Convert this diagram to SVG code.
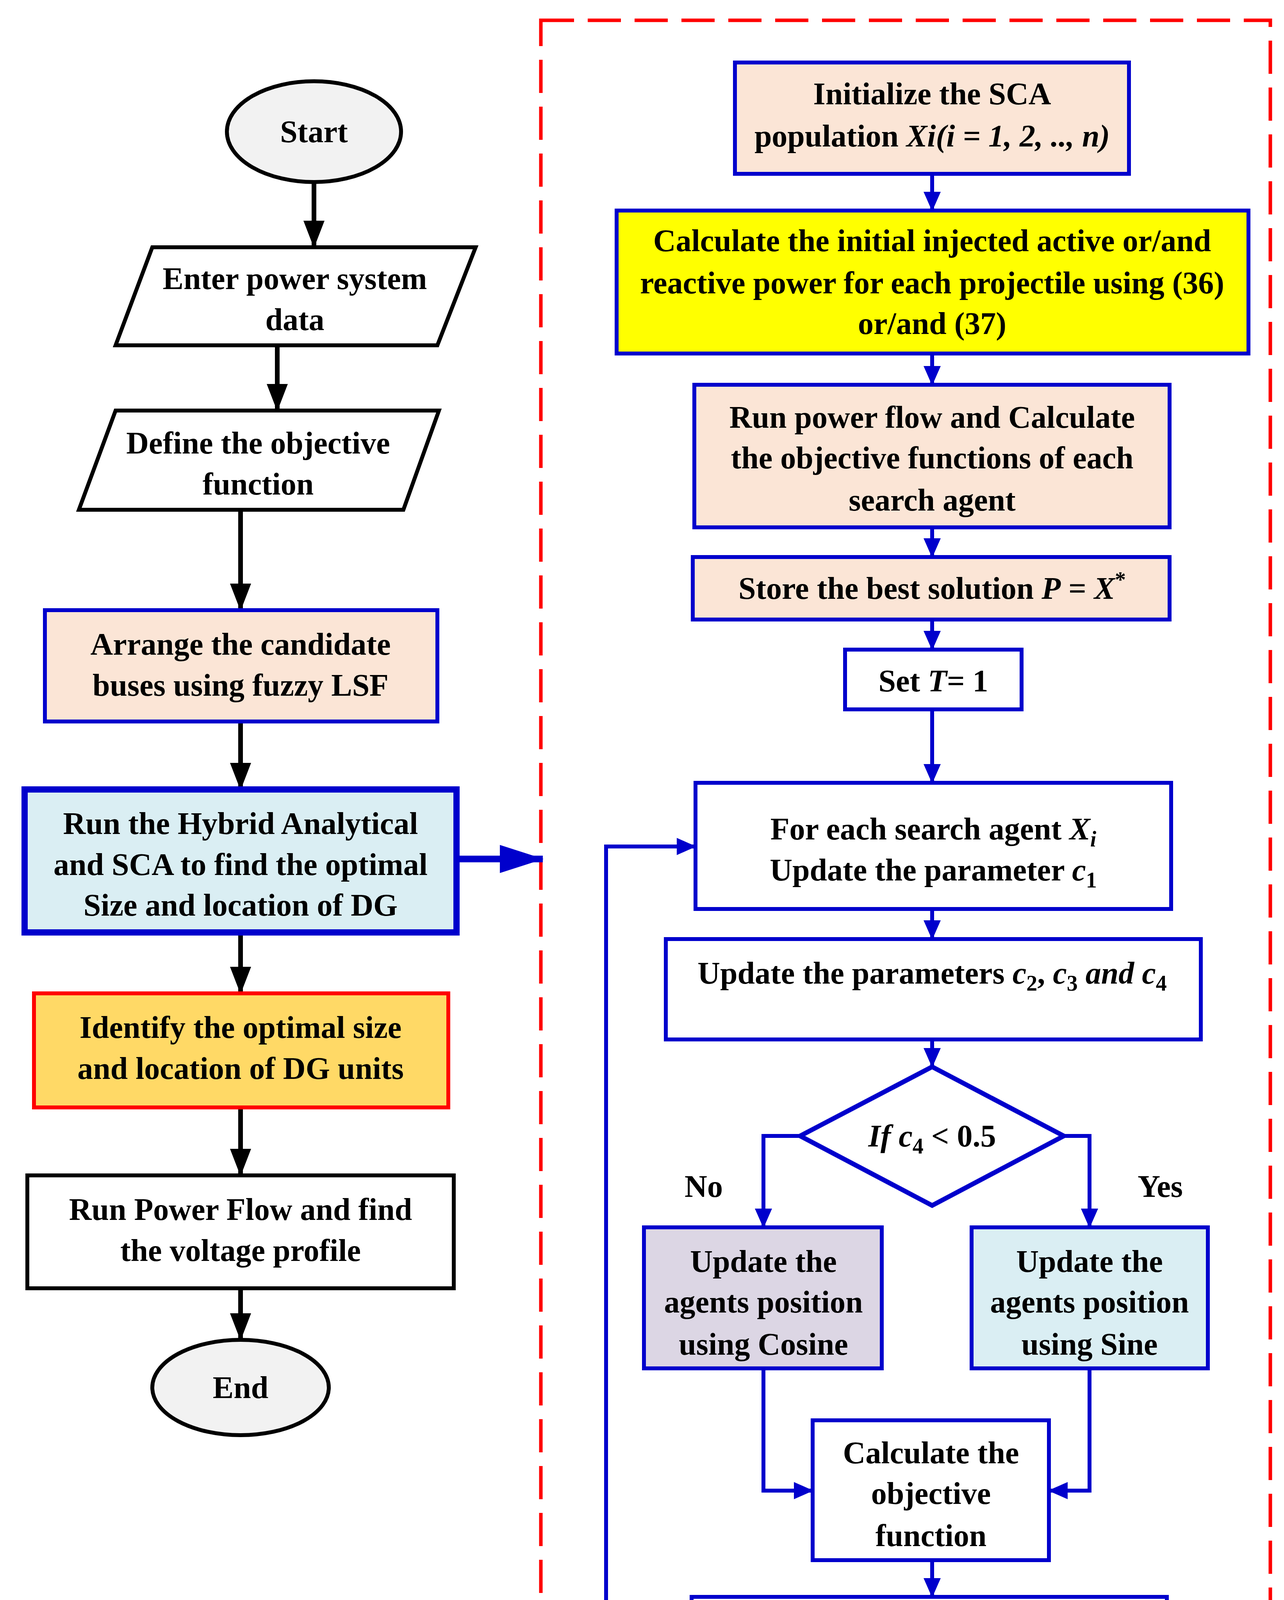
<svg xmlns="http://www.w3.org/2000/svg" width="3288" height="5445" viewBox="0 0 3288 5445">
<style>
text{font-family:"Liberation Serif","Times New Roman",serif;font-weight:bold;font-size:80px;text-anchor:middle;fill:#000}
.i{font-style:italic}
.s{font-size:56px}
.b{stroke:#0000cc;stroke-width:10;fill:none}
.bk{stroke:#000;stroke-width:12;fill:none}
.nb{stroke:#0000cc;stroke-width:10}
</style>
<defs>
<marker id="ab" markerUnits="userSpaceOnUse" markerWidth="50" markerHeight="44" refX="48" refY="22" orient="auto"><path d="M0,0L50,22L0,44z" fill="#0000cc"/></marker>
<marker id="abig" markerUnits="userSpaceOnUse" markerWidth="112" markerHeight="72" refX="110" refY="36" orient="auto"><path d="M0,0L112,36L0,72z" fill="#0000cc"/></marker>
<marker id="ak" markerUnits="userSpaceOnUse" markerWidth="70" markerHeight="54" refX="68" refY="27" orient="auto"><path d="M0,0L70,27L0,54z" fill="#000"/></marker>
</defs>
<rect x="1385" y="52" width="1868" height="5365" fill="none" stroke="#ff0000" stroke-width="9" stroke-dasharray="85,35"/>
<g id="connectors">
<path class="bk" marker-end="url(#ak)" d="M804,466V633"/>
<path class="bk" marker-end="url(#ak)" d="M710,884V1051"/>
<path class="bk" marker-end="url(#ak)" d="M616,1305V1562"/>
<path class="bk" marker-end="url(#ak)" d="M616,1847V2021"/>
<path class="bk" marker-end="url(#ak)" d="M616,2387V2543"/>
<path class="bk" marker-end="url(#ak)" d="M616,2835V3009"/>
<path class="bk" marker-end="url(#ak)" d="M616,3298V3430"/>
<path stroke="#0000cc" stroke-width="17" fill="none" marker-end="url(#abig)" d="M1169,2199H1390"/>
<path class="b" marker-end="url(#ab)" d="M2387,445V539"/>
<path class="b" marker-end="url(#ab)" d="M2387,905V985"/>
<path class="b" marker-end="url(#ab)" d="M2387,1350V1426"/>
<path class="b" marker-end="url(#ab)" d="M2387,1586V1663"/>
<path class="b" stroke-width="13" marker-end="url(#ab)" d="M2387,1816V2004"/>
<path class="b" marker-end="url(#ab)" d="M2387,2327V2404"/>
<path class="b" marker-end="url(#ab)" d="M2387,2661V2731"/>
<path class="b" stroke-width="14" marker-end="url(#ab)" d="M2049,2908H1955V3142"/>
<path class="b" stroke-width="14" marker-end="url(#ab)" d="M2724,2908H2790V3142"/>
<path class="b" stroke-width="13" marker-end="url(#ab)" d="M1955,3503V3816H2081"/>
<path class="b" stroke-width="13" marker-end="url(#ab)" d="M2790,3503V3816H2686"/>
<path class="b" marker-end="url(#ab)" d="M2387,3994V4088"/>
<path class="b" marker-end="url(#ab)" d="M2387,4238V4317"/>
<path class="b" marker-end="url(#ab)" d="M2387,4474V4568"/>
<path class="b" stroke-width="13" marker-end="url(#ab)" d="M2046,4745H1552V2167H1781"/>
<path class="b" marker-end="url(#ab)" d="M2387,4923V5031"/>
<text x="1802" y="3064">No</text>
<text x="2971" y="3064">Yes</text>
<text x="1851" y="4682">No</text>
<text x="2602" y="4981">Yes</text>
</g>
<g id="start"><ellipse cx="804" cy="337" rx="223" ry="129" fill="#f2f2f2" stroke="#000" stroke-width="10"/><text x="804" y="364">Start</text></g>
<g id="enter"><polygon points="390,633 1218,633 1120,884 296,884" fill="#fff" stroke="#000" stroke-width="10"/><text x="755" y="740">Enter power system</text><text x="755" y="845">data</text></g>
<g id="define"><polygon points="296,1051 1124,1051 1033,1305 202,1305" fill="#fff" stroke="#000" stroke-width="10"/><text x="661" y="1161">Define the objective</text><text x="661" y="1266">function</text></g>
<g id="arrange"><rect x="115" y="1562" width="1005" height="285" fill="#fbe5d6" class="nb"/><text x="616" y="1676">Arrange the candidate</text><text x="616" y="1781">buses using fuzzy LSF</text></g>
<g id="hybrid"><rect x="63" y="2021" width="1106" height="366" fill="#daeef3" stroke="#0000cc" stroke-width="16"/><text x="616" y="2135">Run the Hybrid Analytical</text><text x="616" y="2240">and SCA  to find the optimal</text><text x="616" y="2344">Size and location of DG</text></g>
<g id="identify"><rect x="87" y="2543" width="1061" height="292" fill="#ffd966" stroke="#ff0000" stroke-width="10"/><text x="616" y="2657">Identify the optimal size</text><text x="616" y="2762">and location of DG units</text></g>
<g id="runpf"><rect x="70" y="3009" width="1092" height="289" fill="#fff" stroke="#000" stroke-width="10"/><text x="616" y="3123">Run Power Flow and find</text><text x="616" y="3228">the voltage profile</text></g>
<g id="end"><ellipse cx="616" cy="3552" rx="226" ry="122" fill="#f2f2f2" stroke="#000" stroke-width="10"/><text x="616" y="3579">End</text></g>
<g id="init"><rect x="1882" y="160" width="1009" height="285" fill="#fbe5d6" class="nb"/><text x="2387" y="267">Initialize the SCA</text><text x="2387" y="375">population <tspan class="i">Xi(i = 1, 2, .., n)</tspan></text></g>
<g id="calcinit"><rect x="1579" y="539" width="1618" height="366" fill="#ffff00" class="nb"/><text x="2387" y="643">Calculate the initial injected active or/and</text><text x="2387" y="751">reactive power for each projectile using (36)</text><text x="2387" y="855">or/and (37)</text></g>
<g id="runflow"><rect x="1778" y="985" width="1217" height="365" fill="#fbe5d6" class="nb"/><text x="2387" y="1095">Run power flow and Calculate</text><text x="2387" y="1199">the objective functions of each</text><text x="2387" y="1307">search agent</text></g>
<g id="store"><rect x="1774" y="1426" width="1221" height="160" fill="#fbe5d6" class="nb"/><text x="2387" y="1533">Store the best solution <tspan class="i">P</tspan> = <tspan class="i">X</tspan><tspan class="s" dy="-30">*</tspan></text></g>
<g id="sett"><rect x="2164" y="1663" width="452" height="153" fill="#fff" class="nb"/><text x="2390" y="1770">Set <tspan class="i">T</tspan>= 1</text></g>
<g id="foreach"><rect x="1781" y="2004" width="1218" height="323" fill="#fff" class="nb"/><text x="2390" y="2149">For each search agent <tspan class="i">X</tspan><tspan class="s i" dy="18">i</tspan></text><text x="2390" y="2254">Update the parameter <tspan class="i">c</tspan><tspan class="s" dy="18">1</tspan></text></g>
<g id="updparams"><rect x="1705" y="2404" width="1370" height="257" fill="#fff" class="nb"/><text x="2387" y="2518">Update the parameters <tspan class="i">c</tspan><tspan class="s" dy="18">2</tspan><tspan dy="-18">, </tspan><tspan class="i">c</tspan><tspan class="s" dy="18">3</tspan><tspan class="i" dy="-18"> and c</tspan><tspan class="s" dy="18">4</tspan></text></g>
<g id="ifc4"><polygon points="2387,2731 2724,2908 2387,3086 2049,2908" fill="#fff" stroke="#0000cc" stroke-width="12"/><text x="2387" y="2935"><tspan class="i">If c</tspan><tspan class="s" dy="18">4</tspan><tspan dy="-18"> &lt;  0.5</tspan></text></g>
<g id="cosine"><rect x="1649" y="3142" width="609" height="361" fill="#dcd6e4" class="nb"/><text x="1955" y="3256">Update the</text><text x="1955" y="3360">agents position</text><text x="1955" y="3468">using Cosine</text></g>
<g id="sine"><rect x="2488" y="3142" width="605" height="361" fill="#daeef3" class="nb"/><text x="2790" y="3256">Update the</text><text x="2790" y="3360">agents position</text><text x="2790" y="3468">using Sine</text></g>
<g id="calcobj"><rect x="2081" y="3636" width="605" height="358" fill="#fff" class="nb"/><text x="2384" y="3746">Calculate the</text><text x="2384" y="3850">objective</text><text x="2384" y="3958">function</text></g>
<g id="updbest"><rect x="1771" y="4088" width="1217" height="150" fill="#fff" class="nb"/><text x="2380" y="4188">Update the best solution <tspan class="i">P</tspan> = <tspan class="i">X</tspan><tspan class="s" dy="-30">*</tspan></text></g>
<g id="tinc"><rect x="2195" y="4317" width="379" height="157" fill="#fff" class="nb"/><text x="2384" y="4425"><tspan class="i">T</tspan>= <tspan class="i">T</tspan>+1</text></g>
<g id="iftmax"><polygon points="2387,4568 2724,4745 2387,4923 2046,4745" fill="#fff" stroke="#0000cc" stroke-width="12"/><text x="2390" y="4772"><tspan class="i">If T</tspan> &gt; <tspan class="i">T</tspan><tspan class="s i" dy="18">max</tspan></text></g>
<g id="output"><rect x="1879" y="5031" width="1009" height="250" fill="#f2dcdb" class="nb"/><text x="2387" y="5145">Output the optimal Size</text><text x="2387" y="5246">and location of DG</text></g>
</svg>
